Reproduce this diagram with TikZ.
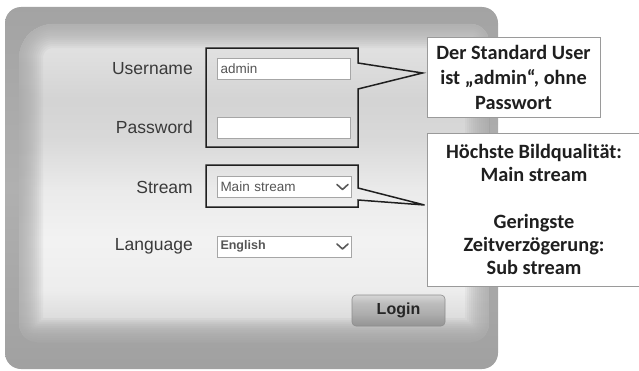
\documentclass[tikz,border=0pt]{standalone}
\usepackage{fontspec}
\setmainfont{Liberation Sans}
\newfontfamily\calibri{Carlito}
\usetikzlibrary{calc, positioning}

\definecolor{aussengrau}{HTML}{A5A5A5}
\definecolor{labelgrau}{HTML}{3A3A3A}
\definecolor{feldrand}{HTML}{A6A6A6}
\definecolor{feldschrift}{HTML}{555555}
\definecolor{hinweisrand}{HTML}{9A9A9A}
\definecolor{knopfrand}{HTML}{8E8E8E}

\pgfdeclareverticalshading{aussenverlauf}{100bp}{color(0bp)=(white!63!black); color(25bp)=(white!63!black); color(50bp)=(white!69!black); color(75bp)=(white!64!black); color(100bp)=(white!64!black)}
\pgfdeclareverticalshading{innenverlauf}{100bp}{color(0bp)=(white!72!black); color(25bp)=(white!72!black); color(28.5bp)=(white!86!black); color(33.2bp)=(white!93!black); color(41bp)=(white!95!black); color(48.9bp)=(white!92!black); color(56.8bp)=(white!85!black); color(63.1bp)=(white!83!black); color(69.3bp)=(white!87!black); color(75bp)=(white!90!black); color(100bp)=(white!90!black)}
\pgfdeclareverticalshading{knopfverlauf}{100bp}{color(0bp)=(white!58!black); color(25bp)=(white!58!black); color(45bp)=(white!68!black); color(62bp)=(white!74!black); color(75bp)=(white!84!black); color(100bp)=(white!84!black)}

\newcommand{\innenflaeche}{(19,190) [rounded corners=34bp] -- (19,346) [rounded corners=18bp] -- (489,346) -- (489,28) -- (19,28) -- cycle}

\begin{document}
\begin{tikzpicture}[x=1bp, y=1bp,
    beschriftung/.style={anchor=east, inner sep=0pt, text=labelgrau, font=\fontsize{17.5bp}{21bp}\selectfont},
    feld/.style={draw=feldrand, fill=white, line width=1bp, anchor=west, inner xsep=3bp, inner ysep=0pt, text width=127bp, minimum height=21bp, align=left, text=feldschrift, font=\fontsize{13.5bp}{16bp}\selectfont},
    rahmenbox/.style={draw=black!88, line width=1.5bp, line join=miter},
    hinweis/.style={draw=hinweisrand, fill=white, line width=0.9bp, align=center, inner sep=0pt, text=black!88, font=\calibri\bfseries\fontsize{20.3bp}{25bp}\selectfont},
    pfeilchen/.style={draw=black!65, line width=1.6bp, line cap=round, line join=round},
    knopf/.style={shade, shading=knopfverlauf, draw=knopfrand, line width=0.6bp, rounded corners=4bp, minimum width=93bp, minimum height=31bp, inner sep=0pt, text=black!85, font=\bfseries\fontsize{16bp}{19bp}\selectfont},
  ]
  \useasboundingbox (0,0) rectangle (639,370);

  % Hintergrund
  \shade[shading=aussenverlauf, rounded corners=16bp] (5,1) rectangle (498,363);
  \shade[shading=innenverlauf] \innenflaeche;
  \begin{scope}
    \clip \innenflaeche;
    \foreach \breite in {48,44,...,4}
      \draw[line width=\breite bp, draw=aussengrau, opacity=0.11] \innenflaeche;
  \end{scope}

  % Felder
  \node[beschriftung] (lblUser) at (193,301) {Username};
  \node[beschriftung] (lblPass) at (193,243) {Password};
  \node[beschriftung] (lblStream) at (193,183) {Stream};
  \node[beschriftung] (lblLang) at (193,124) {Language};

  \node[feld] (feldUser) at (217,301.5) {admin};
  \node[feld] (feldPass) at (217,242.5) {};
  \node[feld, text width=128bp] (feldStream) at (217,183) {Main stream};
  \node[feld, text width=128bp, font=\bfseries\fontsize{12.5bp}{15bp}\selectfont] (feldLang) at (217,123.5) {English};
  \foreach \f in {feldStream, feldLang}
    \draw[pfeilchen] ($(\f.east)+(-15,2.5)$) -- ($(\f.east)+(-9.5,-2.5)$) -- ($(\f.east)+(-4,2.5)$);

  \node[knopf] (login) at (398.5,59.5) {Login};

  % Hinweise
  \node[hinweis, minimum width=173bp, minimum height=80bp] (hinweisUser) at (513.5,293) {Der Standard User\\ist „admin“, ohne\\Passwort};
  \node[hinweis, minimum width=214bp, minimum height=153bp, font=\calibri\bfseries\fontsize{20.3bp}{23.2bp}\selectfont] (hinweisStream) at (534,160.5) {Höchste Bildqualität:\\Main stream\\[23.2bp]Geringste\\Zeitverzögerung:\\Sub stream};

  % Markierungen mit Zeiger
  \coordinate (spitzeUser) at ($(hinweisUser.west)+(-4,4)$);
  \coordinate (spitzeStream) at ($(hinweisStream.west)+(-2,4.5)$);
  \draw[rahmenbox] (206,322) -- (358,322) -- (358,307) -- (spitzeUser) -- (358,281) -- (358,223) -- (206,223) -- cycle;
  \draw[rahmenbox] (206,205) -- (358,205) -- (358,182) -- (spitzeStream) -- (358,170) -- (358,163) -- (206,163) -- cycle;
\end{tikzpicture}
\end{document}
